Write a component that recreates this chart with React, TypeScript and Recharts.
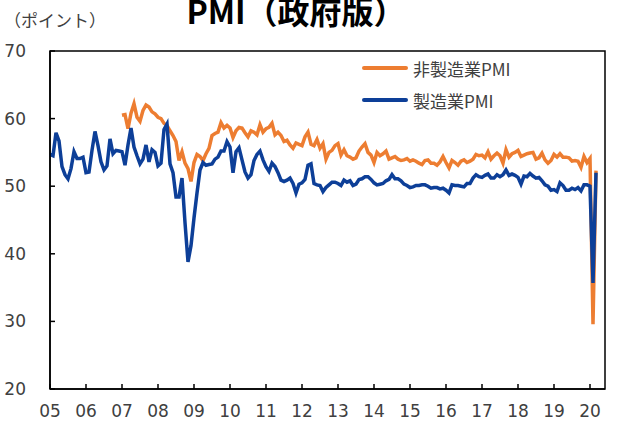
import React from 'react'
import { LineChart, Line, XAxis, YAxis, ReferenceArea } from 'recharts'

// year labels on the x axis (one tick every January)
const years = ['05', '06', '07', '08', '09', '10', '11', '12', '13', '14', '15', '16', '17', '18', '19', '20']

// manufacturing PMI, monthly from Jan 2005 to Mar 2020
const mfg = [
  54.7, 54.5, 57.9, 56.7, 52.9, 51.7, 51.1, 52.6, 55.1, 54.1, 54.1, 54.3,
  52.0, 52.1, 55.3, 58.1, 56.0, 53.6, 52.4, 53.0, 57.0, 54.8, 55.3, 55.2,
  55.1, 53.1, 56.1, 58.6, 55.8, 54.5, 53.3, 54.0, 56.1, 53.6, 55.4, 55.0,
  53.0, 53.4, 58.4, 59.2, 53.3, 52.0, 48.4, 48.4, 51.2, 44.6, 38.8, 41.2,
  45.3, 49.0, 52.4, 53.5, 53.1, 53.2, 53.3, 54.0, 54.3, 55.2, 55.2, 56.6,
  55.8, 52.0, 55.1, 55.7, 53.9, 52.1, 51.2, 51.7, 53.8, 54.7, 55.2, 53.9,
  52.9, 52.2, 53.4, 52.9, 52.0, 50.9, 50.7, 50.9, 51.2, 50.4, 49.0, 50.3,
  50.5, 51.0, 53.1, 53.3, 50.4, 50.2, 50.1, 49.2, 49.8, 50.2, 50.6, 50.6,
  50.4, 50.1, 50.9, 50.6, 50.8, 50.1, 50.3, 51.0, 51.1, 51.4, 51.4, 51.0,
  50.5, 50.2, 50.3, 50.4, 50.8, 51.0, 51.7, 51.1, 51.1, 50.8, 50.3, 50.1,
  49.8, 49.9, 50.1, 50.1, 50.2, 50.2, 50.0, 49.7, 49.8, 49.8, 49.6, 49.7,
  49.4, 49.0, 50.2, 50.1, 50.1, 50.0, 49.9, 50.4, 50.4, 51.2, 51.7, 51.4,
  51.3, 51.6, 51.8, 51.2, 51.2, 51.7, 51.4, 51.7, 52.4, 51.6, 51.8, 51.6,
  51.3, 50.3, 51.5, 51.4, 51.9, 51.5, 51.2, 51.3, 50.8, 50.2, 50.0, 49.4,
  49.5, 49.2, 50.5, 50.1, 49.4, 49.4, 49.7, 49.5, 49.8, 49.3, 50.2, 50.2,
  50.0, 35.7, 52.0,
]

// non-manufacturing PMI, monthly from Jan 2007 to Mar 2020
const nonMfgStart = 24
const nonMfg = [
  60.5, 60.6, 58.5, 60.8, 62.2, 60.2, 59.6, 61.2, 62.0, 61.7, 61.0, 60.7,
  60.2, 60.0, 59.3, 59.0, 58.2, 57.5, 56.6, 53.8, 55.1, 53.4, 52.6, 50.7,
  53.5, 54.7, 54.4, 53.8, 54.8, 55.6, 57.5, 57.8, 58.0, 59.4, 58.6, 59.0,
  58.6, 57.2, 58.2, 58.7, 58.6, 57.9, 57.3, 58.2, 58.0, 57.6, 59.1, 58.0,
  58.5, 58.7, 59.3, 57.6, 58.0, 57.5, 56.6, 56.8, 56.1, 55.6, 56.4, 56.2,
  56.0, 57.3, 58.0, 56.2, 56.0, 56.9, 55.6, 56.3, 54.0, 55.0, 55.3, 56.0,
  56.3, 54.6, 55.4, 54.5, 54.3, 54.0, 54.2, 55.2, 55.8, 56.3, 55.0, 54.6,
  53.5, 55.0, 54.5, 54.8, 55.2, 54.0, 54.2, 54.4, 54.0, 53.8, 53.9, 54.1,
  53.7, 53.9, 53.7, 53.4, 53.2, 53.8, 53.9, 53.4, 53.4, 53.1, 53.6, 54.4,
  53.5, 52.7, 53.8, 53.5, 53.1, 53.7, 53.9, 53.5, 53.7, 54.0, 54.7, 54.5,
  54.6, 54.2, 55.1, 54.0, 54.5, 54.9, 54.5, 53.4, 55.4, 54.3, 54.8, 55.0,
  55.3, 54.4, 54.6, 54.8, 54.9, 55.0, 54.0, 54.2, 54.9, 53.9, 53.4, 53.8,
  54.7, 54.3, 54.8, 54.3, 54.3, 54.2, 53.7, 53.8, 53.7, 52.8, 54.4, 53.5,
  54.1, 29.6, 52.3,
]

const yTicks = [20, 30, 40, 50, 60, 70]

const ORANGE = '#ED7D31'
const BLUE = '#0D3F98'
const TEXT = '#404040'
const jpFont = '"Noto Sans CJK JP", "DejaVu Sans", sans-serif'

const data = mfg.map((v, i) => ({
  i,
  mfg: v,
  nonMfg: i >= nonMfgStart ? nonMfg[i - nonMfgStart] : null,
}))

const tickStyle = { fill: TEXT, fontSize: 17, fontFamily: '"DejaVu Sans", sans-serif' }

const LegendRow = ({ color, label }: { color: string; label: string }) => (
  <div style={{ display: 'flex', alignItems: 'center', height: 32 }}>
    <div style={{ width: 46, height: 4, borderRadius: 2, background: color, marginRight: 5 }} />
    <span style={{ fontSize: 17, color: TEXT, fontFamily: jpFont }}>{label}</span>
  </div>
)

export default function App() {
  return (
    <div style={{ position: 'absolute', left: 0, top: 0, width: 618, height: 423, background: '#fff', overflow: 'hidden' }}>
      <div
        style={{
          position: 'absolute', left: 0, top: -6, width: 592, textAlign: 'center',
          fontSize: 32, lineHeight: '32px', fontWeight: 700, color: '#000', fontFamily: jpFont,
        }}
      >
        PMI（政府版）
      </div>
      <div
        style={{
          position: 'absolute', left: 4, top: 10, fontSize: 17, lineHeight: '20px',
          color: TEXT, fontFamily: jpFont,
        }}
      >
        （ポイント）
      </div>
      <LineChart width={618} height={423} data={data} margin={{ top: 51, right: 13, bottom: 4, left: 0 }}>
        <ReferenceArea x1={0} x2={185} y1={20} y2={70} fill="none" stroke="#000" strokeWidth={1.5} />
        <XAxis
          dataKey="i"
          type="number"
          domain={[0, 185]}
          ticks={years.map((_, k) => k * 12)}
          tickFormatter={(v: number) => years[v / 12]}
          interval={0}
          height={30}
          tickSize={-5}
          tickMargin={21}
          tick={tickStyle}
          axisLine={{ stroke: '#000', strokeWidth: 1.5 }}
          tickLine={{ stroke: '#000', strokeWidth: 1.5 }}
        />
        <YAxis
          domain={[20, 70]}
          ticks={yTicks}
          interval={0}
          width={50}
          tickSize={-5}
          tickMargin={29}
          tick={tickStyle}
          axisLine={{ stroke: '#000', strokeWidth: 1.5 }}
          tickLine={{ stroke: '#000', strokeWidth: 1.5 }}
        />
        <Line
          type="linear"
          dataKey="nonMfg"
          stroke={ORANGE}
          strokeWidth={3.5}
          dot={false}
          isAnimationActive={false}
        />
        <Line
          type="linear"
          dataKey="mfg"
          stroke={BLUE}
          strokeWidth={3.5}
          dot={false}
          isAnimationActive={false}
        />
      </LineChart>
      <div style={{ position: 'absolute', left: 362, top: 52 }}>
        <LegendRow color={ORANGE} label="非製造業PMI" />
        <LegendRow color={BLUE} label="製造業PMI" />
      </div>
    </div>
  )
}
